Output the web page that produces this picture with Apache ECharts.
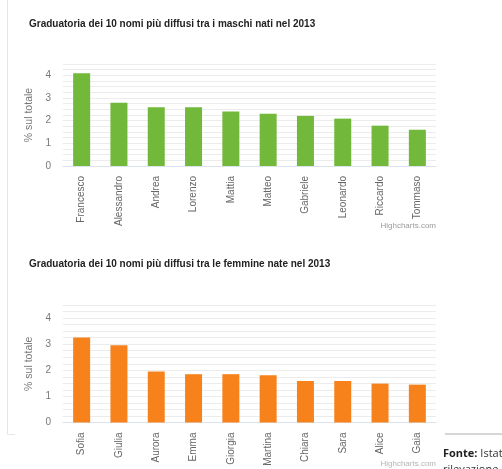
<!DOCTYPE html>
<html>
<head>
<meta charset="utf-8">
<script src="https://cdn.jsdelivr.net/npm/echarts@6/dist/echarts.min.js"></script>
<style>
html,body{margin:0;padding:0;background:#fff;}
#c{width:502px;height:469px;}
</style>
</head>
<body>
<div id="c"></div>
<script>
const maleNames = ['Francesco','Alessandro','Andrea','Lorenzo','Mattia','Matteo','Gabriele','Leonardo','Riccardo','Tommaso'];
const maleValues = [4.09, 2.79, 2.59, 2.59, 2.4, 2.3, 2.21, 2.09, 1.78, 1.6];
const femaleNames = ['Sofia','Giulia','Aurora','Emma','Giorgia','Martina','Chiara','Sara','Alice','Gaia'];
const femaleValues = [3.26, 2.96, 1.95, 1.85, 1.85, 1.81, 1.59, 1.59, 1.49, 1.45];
const yTicks = [0, 1, 2, 3, 4];
const titleMale = 'Graduatoria dei 10 nomi più diffusi tra i maschi nati nel 2013';
const titleFemale = 'Graduatoria dei 10 nomi più diffusi tra le femmine nate nel 2013';
const yName = '% sul totale';

const font = 'Liberation Sans, Arial, sans-serif';
const chart = echarts.init(document.getElementById('c'));

function yAxisCfg(gridIndex){
  return {
    type:'value', gridIndex, min:0, max:4.5, interval:0.25,
    name:yName, nameLocation:'middle', nameGap:24, nameRotate:90,
    nameTextStyle:{color:'#777', fontSize:10.5, fontFamily:font},
    axisLine:{show:false}, axisTick:{show:false},
    axisLabel:{color:'#777', fontSize:10, fontFamily:font, margin:12,
      formatter:v => yTicks.indexOf(v) >= 0 ? String(v) : ''},
    splitLine:{lineStyle:{color:'#ececec', width:1}}
  };
}
function xAxisCfg(gridIndex, data){
  return {
    type:'category', gridIndex, data,
    axisLine:{lineStyle:{color:'#dde3ee'}}, axisTick:{show:false},
    axisLabel:{rotate:90, color:'#666', fontSize:10, fontFamily:font, margin:10, interval:0}
  };
}

chart.setOption({
  animation:false,
  title:[
    {text:titleMale, left:24, top:14, textStyle:{fontSize:10, fontWeight:'bold', color:'#222', fontFamily:font}},
    {text:titleFemale, left:24, top:254, textStyle:{fontSize:10, fontWeight:'bold', color:'#222', fontFamily:font}}
  ],
  grid:[
    {left:63, right:66, top:64, height:102},
    {left:63, right:66, top:305, height:117.5}
  ],
  xAxis:[xAxisCfg(0, maleNames), xAxisCfg(1, femaleNames)],
  yAxis:[yAxisCfg(0), yAxisCfg(1)],
  series:[
    {type:'bar', xAxisIndex:0, yAxisIndex:0, data:maleValues, barWidth:17, itemStyle:{color:'#72b83a'}},
    {type:'bar', xAxisIndex:1, yAxisIndex:1, data:femaleValues, barWidth:17, itemStyle:{color:'#f7821c'}}
  ],
  graphic:[
    {type:'polyline', shape:{points:[[7.5,0],[7.5,434.5],[15,434.5]]}, style:{stroke:'#e6e6e6', fill:null, lineWidth:1}},
    {type:'text', right:66, top:222, style:{text:'Highcharts.com', fill:'#9a9a9a', fontSize:8, fontFamily:font}},
    {type:'text', right:66, top:460, style:{text:'Highcharts.com', fill:'#b5b5b5', fontSize:8, fontFamily:font}},
    {type:'line', shape:{x1:445, y1:434, x2:502, y2:434}, style:{stroke:'#c8c8c8', lineWidth:1.5}},
    {type:'text', left:443, top:448, style:{text:'{b|Fonte:} Istat', fontSize:11, fill:'#333', fontFamily:'Open Sans, sans-serif',
      rich:{b:{fontWeight:'bold', fontSize:11, fill:'#222', fontFamily:'Open Sans, sans-serif'}}}},
    {type:'text', left:443, top:464, style:{text:'rilevazione', fontSize:11, fill:'#333', fontFamily:'Open Sans, sans-serif'}}
  ]
});
</script>
</body>
</html>
